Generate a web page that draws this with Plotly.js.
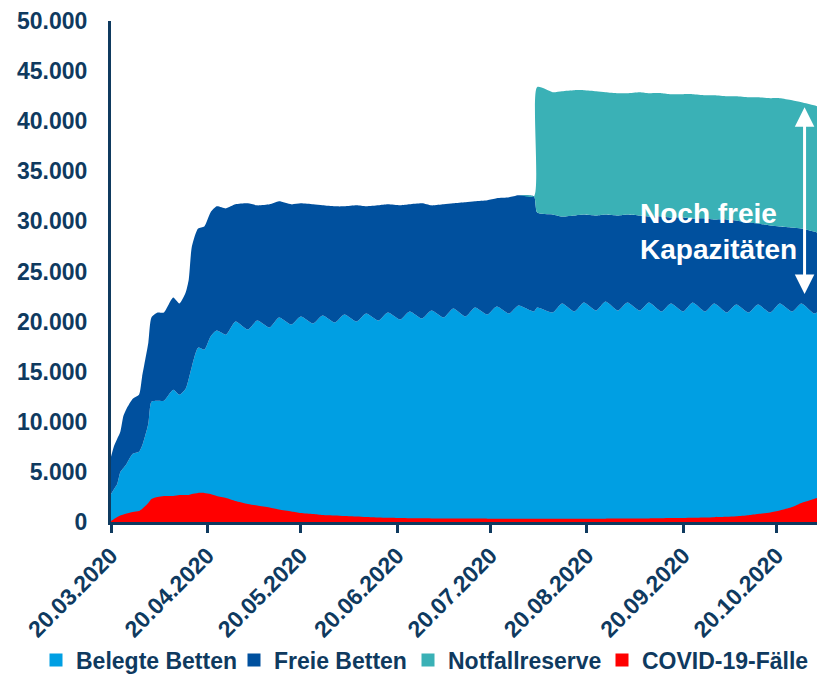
<!DOCTYPE html>
<html>
<head>
<meta charset="utf-8">
<script src="https://cdn.plot.ly/plotly-3.0.1.min.js"></script>
<style>html,body{margin:0;padding:0;background:#fff;}#chart{width:817px;height:675px;}</style>
</head>
<body>
<div id="chart"></div>
<script>
const dates = [
 '2020-03-20','2020-03-21','2020-03-22','2020-03-23','2020-03-24','2020-03-25','2020-03-27','2020-03-29','2020-03-30',
 '2020-04-01','2020-04-02','2020-04-04','2020-04-06','2020-04-09','2020-04-11','2020-04-13','2020-04-14','2020-04-15',
 '2020-04-17','2020-04-19','2020-04-21','2020-04-23','2020-04-26','2020-04-29',
 '2020-05-03','2020-05-06','2020-05-10','2020-05-13','2020-05-17','2020-05-20','2020-05-24','2020-05-27','2020-05-31',
 '2020-06-03','2020-06-07','2020-06-10','2020-06-14','2020-06-17','2020-06-21','2020-06-24','2020-06-28',
 '2020-07-01','2020-07-05','2020-07-08','2020-07-12','2020-07-15','2020-07-19','2020-07-22','2020-07-26','2020-07-29',
 '2020-08-03','2020-08-04','2020-08-09','2020-08-12','2020-08-16','2020-08-19','2020-08-23','2020-08-26','2020-08-30',
 '2020-09-02','2020-09-06','2020-09-09','2020-09-13','2020-09-16','2020-09-20','2020-09-23','2020-09-27','2020-09-30',
 '2020-10-04','2020-10-07','2020-10-11','2020-10-14','2020-10-18','2020-10-21','2020-10-25','2020-10-28',
 '2020-11-01','2020-11-02'
];
const belegteBetten = [
 2800,3300,3800,5000,5400,5800,6800,7000,7600,
 9800,12000,12100,12100,13200,12700,13300,14300,15500,
 17400,17200,18500,19100,18700,20000,
 19200,20100,19400,20400,19700,20500,19800,20600,19900,
 20700,20000,20800,20100,20900,20200,21000,20300,
 21100,20400,21300,20500,21400,20700,21500,20800,21600,
 21000,21400,20900,21800,21000,21900,21100,22000,21100,
 21900,21100,21900,21000,21800,21000,21900,21000,21800,
 20900,21700,20900,21700,20900,21800,21000,21800,
 20800,20900
];
const freieBetten = [
 3700,4300,4500,4000,5200,5500,5500,5700,6900,
 8100,8400,8800,8800,9200,9100,9600,9900,12000,
 11900,12300,12400,12400,12600,11700,
 12600,11500,12300,11600,12000,11300,11900,11000,11600,
 10800,11600,10700,11500,10800,11400,10700,11500,
 10500,11300,10500,11400,10600,11400,10800,11600,11000,
 11500,9500,9800,8700,9600,8800,9500,8700,9500,
 8800,9500,8600,9500,8600,9400,8400,9300,8400,
 9300,8400,9000,8100,8700,7700,8400,7500,
 8200,8000
];
const notfallreserve = [
 0,0,0,0,0,0,0,0,0,
 0,0,0,0,0,0,0,0,0,
 0,0,0,0,0,0,
 0,0,0,0,0,0,0,0,0,
 0,0,0,0,0,0,0,0,
 0,0,0,0,0,0,0,0,0,
 0,12500,12200,12500,12500,12400,12400,12200,12200,
 12100,12300,12300,12300,12300,12300,12400,12300,12400,
 12300,12400,12500,12600,12700,12800,12700,12600,
 12600,12600
];
const covidFaelle = [
 100,300,500,650,750,850,1000,1100,1300,
 1900,2300,2500,2600,2600,2700,2700,2700,2800,
 2900,2900,2800,2600,2400,2100,
 1800,1650,1450,1250,1050,900,800,700,650,
 600,550,500,450,420,400,380,370,
 360,350,350,340,340,330,330,330,330,
 330,330,330,330,330,330,330,330,340,
 340,350,360,370,390,400,420,450,480,
 520,580,680,800,950,1150,1500,1900,
 2300,2400
];
const seriesNames = ['Belegte Betten','Freie Betten','Notfallreserve','COVID-19-Fälle'];
const seriesColors = ['#009fe3','#00509e','#3ab1b6','#ff0000'];
const tickDates = ['2020-03-20','2020-04-20','2020-05-20','2020-06-20','2020-07-20','2020-08-20','2020-09-20','2020-10-20'];
const tickLabels = ['20.03.2020','20.04.2020','20.05.2020','20.06.2020','20.07.2020','20.08.2020','20.09.2020','20.10.2020'];
const annotationText = 'Noch freie<br>Kapazitäten';

const navy = '#0f3a5f';
const font = 'Liberation Sans, Arial, sans-serif';
const stackVals = [belegteBetten, freieBetten, notfallreserve];
const traces = [];
stackVals.forEach((vals, i) => {
  traces.push({
    x: dates, y: vals, type: 'scatter', mode: 'lines', stackgroup: 'one',
    line: {width: 0, shape: 'spline', smoothing: 0.6, color: seriesColors[i]},
    fillcolor: seriesColors[i], showlegend: false, hoverinfo: 'skip'
  });
});
traces.push({
  x: dates, y: covidFaelle, type: 'scatter', mode: 'lines', fill: 'tozeroy',
  line: {width: 0, shape: 'spline', smoothing: 0.6, color: seriesColors[3]},
  fillcolor: seriesColors[3], showlegend: false, hoverinfo: 'skip'
});
const legendIds = ['legend', 'legend2', 'legend3', 'legend4'];
const legendLeft = [36, 234, 408, 602];
seriesNames.forEach((n, i) => {
  traces.push({
    x: [null], y: [null], type: 'scatter', mode: 'markers', name: n, legend: legendIds[i],
    marker: {symbol: 'square', size: 13, color: seriesColors[i]}, showlegend: true
  });
});

const layout = {
  width: 817, height: 675,
  margin: {l: 111, r: 0, t: 21, b: 153, autoexpand: false},
  paper_bgcolor: '#ffffff', plot_bgcolor: '#ffffff',
  separators: ',.',
  font: {family: font, color: navy, size: 23, weight: 'bold'},
  showlegend: true,
  xaxis: {
    type: 'date', range: ['2020-03-20', '2020-11-02'], automargin: false,
    tickvals: tickDates, ticktext: tickLabels, tickangle: -45,
    ticks: 'outside', ticklen: 8, tickwidth: 3, tickcolor: navy,
    showline: true, linecolor: navy, linewidth: 3, showgrid: false, zeroline: false,
    tickfont: {family: font, size: 23, color: navy, weight: 'bold'}
  },
  yaxis: {
    range: [0, 50000], dtick: 5000, tickformat: ',d', ticks: '', automargin: false,
    showline: true, linecolor: navy, linewidth: 3, showgrid: false, zeroline: false,
    ticklabelstandoff: 16,
    tickfont: {family: font, size: 23, color: navy, weight: 'bold'}
  },
  annotations: [
    {x: '2020-09-05 12:00', y: 29000, xref: 'x', yref: 'y', text: annotationText, showarrow: false,
     xanchor: 'left', yanchor: 'middle', align: 'left',
     font: {family: font, size: 28, color: '#ffffff', weight: 'bold'}},
    {x: '2020-10-29', y: 41400, ax: '2020-10-29', ay: 22600, xref: 'x', yref: 'y', axref: 'x', ayref: 'y',
     text: '', showarrow: true, arrowside: 'end+start', arrowhead: 2, arrowsize: 1.3, arrowwidth: 3, arrowcolor: '#ffffff'}
  ]
};
legendIds.forEach((id, i) => {
  layout[id] = {
    orientation: 'h', xref: 'container', yref: 'container',
    x: legendLeft[i] / 817, xanchor: 'left', y: 15 / 675, yanchor: 'middle',
    bgcolor: 'rgba(0,0,0,0)', borderwidth: 0, itemwidth: 30,
    font: {family: font, size: 23, color: navy, weight: 'bold'}
  };
});
Plotly.newPlot('chart', traces, layout, {staticPlot: true, displayModeBar: false});
</script>
</body>
</html>
